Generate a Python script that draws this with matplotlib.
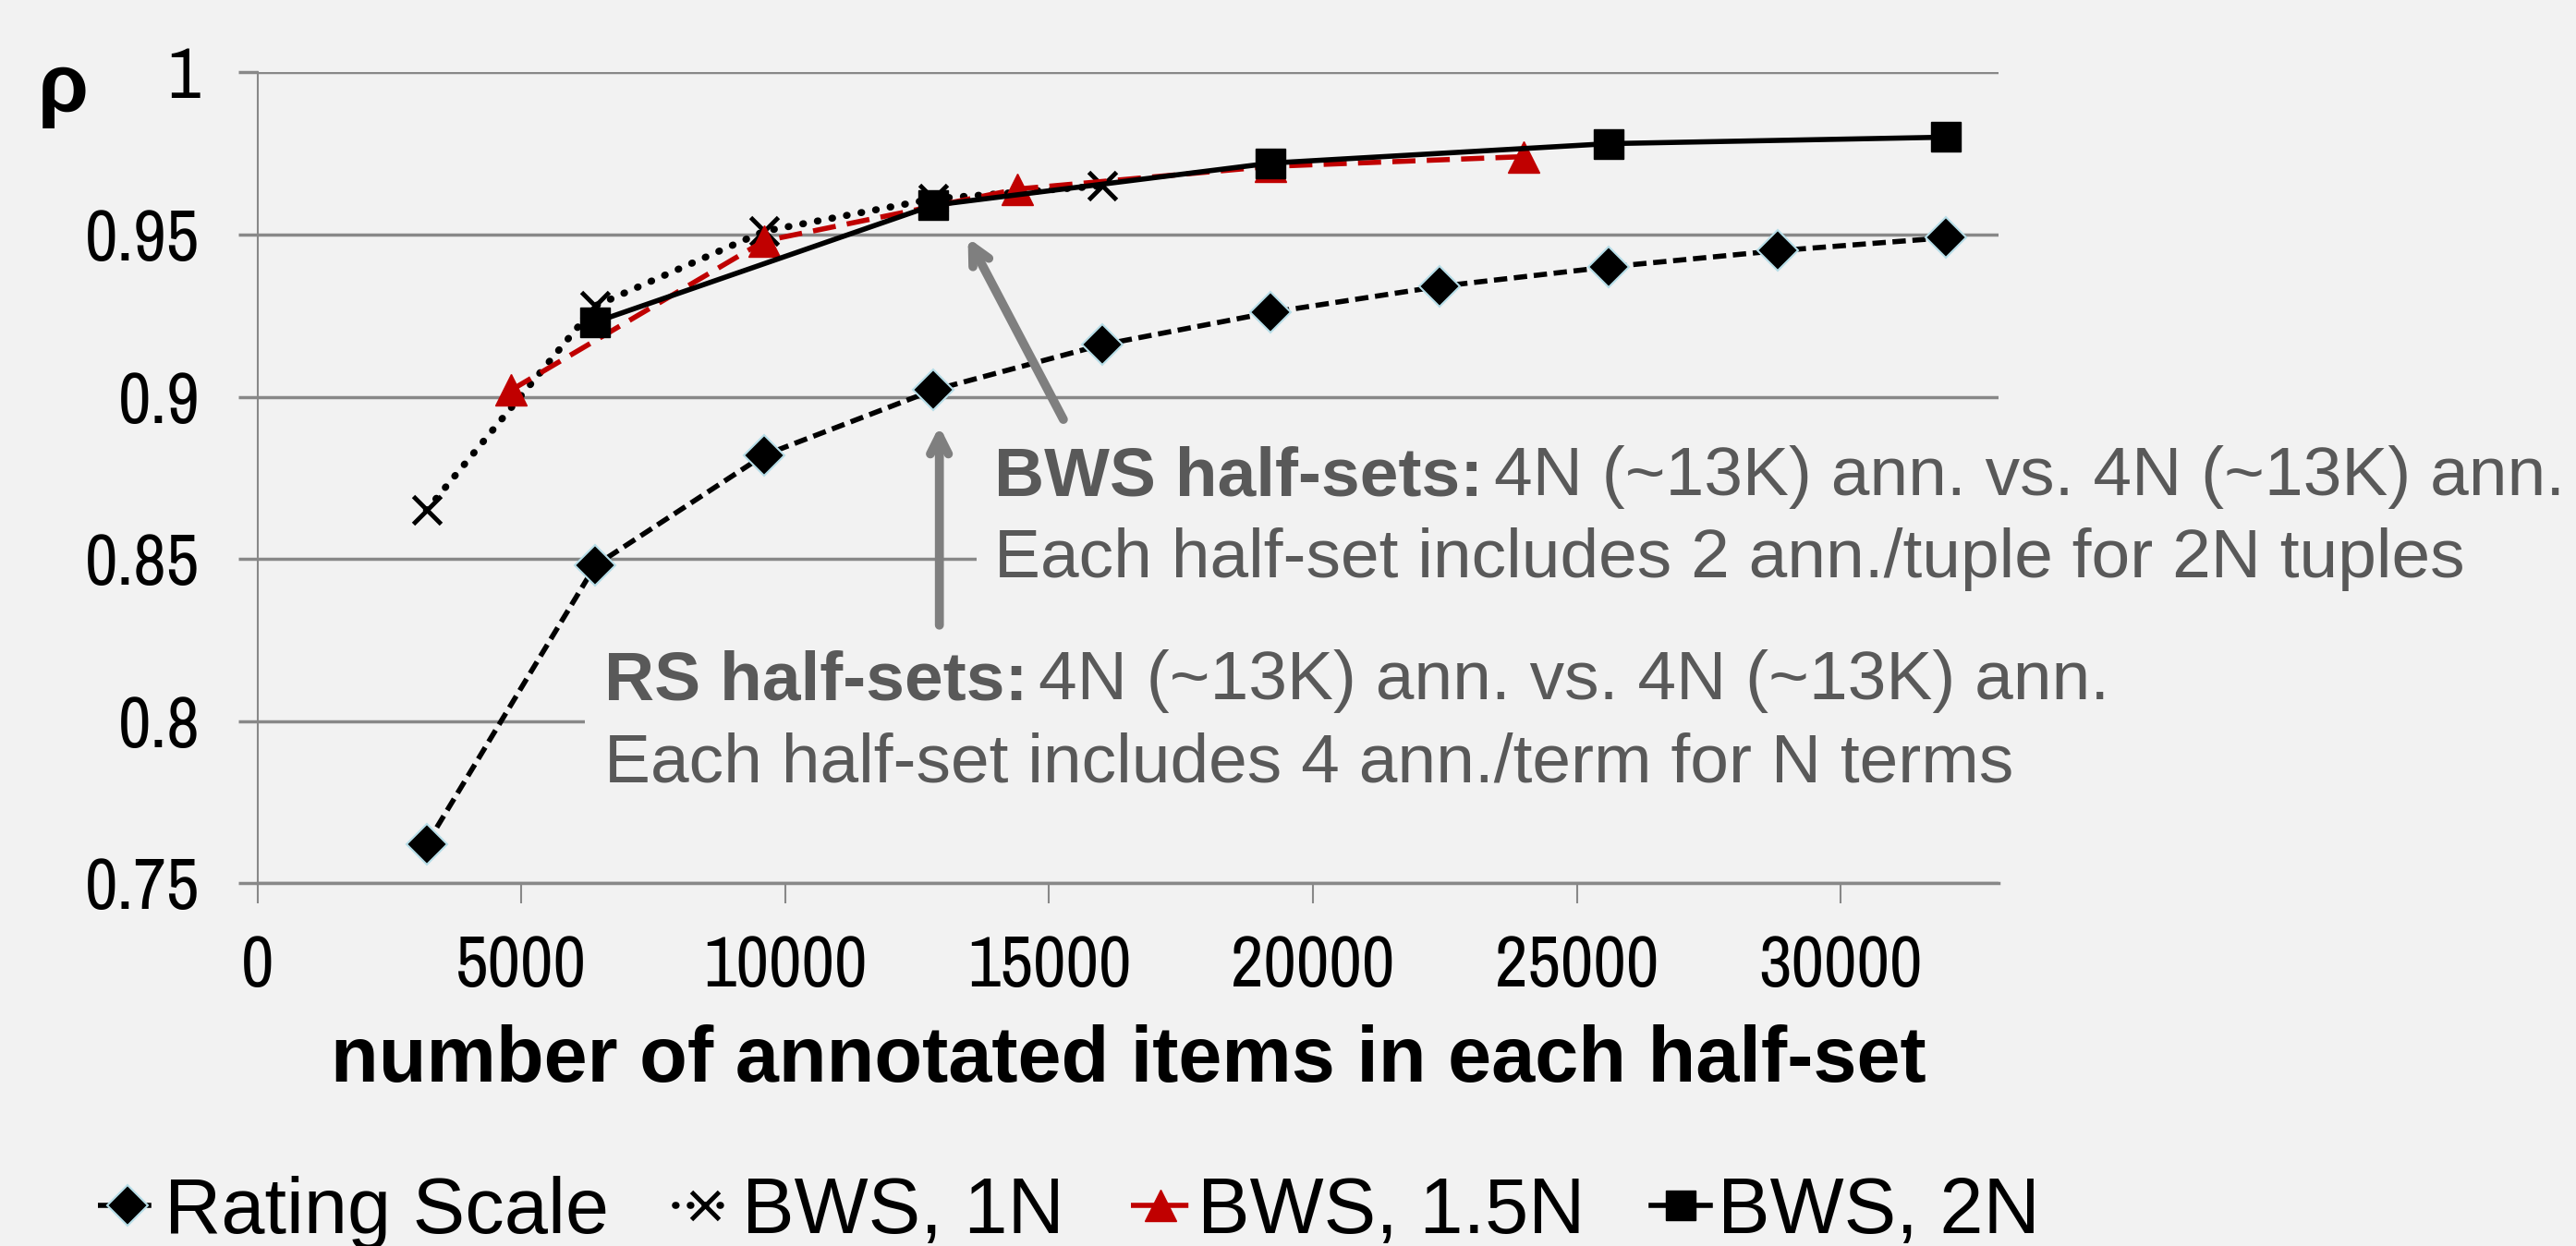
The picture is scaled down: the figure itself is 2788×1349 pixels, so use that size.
import matplotlib
matplotlib.use("Agg")
from matplotlib import pyplot as plt
from matplotlib import font_manager
from matplotlib.patches import Rectangle

# data
rs_x = [3200, 6400, 9600, 12800, 16000, 19200, 22400, 25600, 28800, 32000]
rs_y = [0.762, 0.848, 0.882, 0.902, 0.916, 0.926, 0.934, 0.940, 0.945, 0.949]
bws1_x = [3200, 6400, 9600, 12800, 16000]
bws1_y = [0.865, 0.928, 0.951, 0.961, 0.965]
bws15_x = [4800, 9600, 14400, 19200, 24000]
bws15_y = [0.902, 0.948, 0.964, 0.971, 0.974]
bws2_x = [6400, 12800, 19200, 25600, 32000]
bws2_y = [0.923, 0.959, 0.972, 0.978, 0.980]
x_ticks = [0, 5000, 10000, 15000, 20000, 25000, 30000]
y_ticks = [0.75, 0.8, 0.85, 0.9, 0.95, 1]
y_ticklabels = ["0.75", "0.8", "0.85", "0.9", "0.95", "1"]

# tick labels are in a narrow face; take the first one that is there
names = {f.name for f in font_manager.fontManager.ttflist}
narrow_pref = ["Liberation Sans Narrow", "Arial Narrow", "Nimbus Sans Narrow",
               "Archivo Narrow", "Roboto Condensed", "PT Sans Narrow",
               "IBM Plex Sans Condensed", "Fira Sans Condensed"]
NARROW = next((n for n in narrow_pref if n in names), "Liberation Sans")
WIDE = "Liberation Sans"
BG = "#f2f2f2"
GRID = "#888888"
TXT = "#595959"
ARROW = "#7f7f7f"

fig = plt.figure(figsize=(27.88, 13.49), dpi=100, facecolor=BG)
ax = fig.add_axes([0.100, 0.291, 0.676, 0.651], facecolor=BG)

ax.plot(rs_x, rs_y, color="black", lw=4, dashes=(2.6, 1.3), marker="D", ms=22,
        mfc="black", mec="#b7dee8", mew=1.5, label="Rating Scale", zorder=3)
ax.plot(bws1_x, bws1_y, color="black", lw=5.5, dashes=(0.1, 2.0), dash_capstyle="round",
        marker="x", ms=21, mew=3.5, label="BWS, 1N", zorder=3)
ax.plot(bws15_x, bws15_y, color="#c00000", lw=4, dashes=(4.5, 2.2), marker="^", ms=24,
        mfc="#c00000", mec="#c00000", label="BWS, 1.5N", zorder=3)
ax.plot(bws2_x, bws2_y, color="black", lw=4, marker="s", ms=23, mfc="black", mec="black",
        label="BWS, 2N", zorder=3)

ax.set_xlim(0, 33000)
ax.set_ylim(0.75, 1.0)
ax.set_xticks(x_ticks)
ax.set_yticks(y_ticks)
ax.set_yticklabels(y_ticklabels)
ax.grid(axis="y", color=GRID, lw=2.5)
ax.set_axisbelow(True)
for s in ["top", "right"]:
    ax.spines[s].set_visible(False)
for s in ["left", "bottom"]:
    ax.spines[s].set_color(GRID)
ax.spines["left"].set_linewidth(1.5)
ax.spines["bottom"].set_linewidth(2.5)
ax.tick_params(axis="x", length=16, width=1.5, color=GRID, pad=24)
ax.tick_params(axis="y", length=15, width=2.5, color=GRID, pad=30)

fig.canvas.draw()
renderer = fig.canvas.get_renderer()

# size the narrow tick labels from the width of "0.95" in the reference (~117 px),
# a little bigger so the digits are about as tall
probe = fig.text(0, 0, "0.95", fontfamily=NARROW, fontsize=54)
w = probe.get_window_extent(renderer).width
probe.remove()
tick_size = min(56, 54 * 117 / w * 1.12)
for lab in ax.get_xticklabels() + ax.get_yticklabels():
    lab.set_fontfamily(NARROW)
    lab.set_fontsize(tick_size)

ax.set_xlabel("number of annotated items in each half-set", fontfamily=WIDE,
              fontweight="bold", fontsize=61, labelpad=20)
fig.text(0.0245, 0.927, "\u03c1", fontfamily=WIDE, fontweight="bold", fontsize=64,
         ha="center", va="center")

# boxes that hide the grid behind the notes
ax.add_patch(Rectangle((0.379, 0.518), 0.42, 0.148, transform=fig.transFigure,
                       facecolor=BG, edgecolor="none", clip_on=False, zorder=2))
ax.add_patch(Rectangle((0.227, 0.345), 0.56, 0.145, transform=fig.transFigure,
                       facecolor=BG, edgecolor="none", clip_on=False, zorder=2))

arrow_kw = dict(arrowstyle="->,head_length=1.4,head_width=0.7", color=ARROW, lw=7,
                shrinkA=0, shrinkB=0)
ax.annotate("", xy=(13460, 0.949), xytext=(15270, 0.893), arrowprops=arrow_kw, zorder=4)
ax.annotate("", xy=(12920, 0.891), xytext=(12920, 0.8296), arrowprops=arrow_kw, zorder=4)


def note(x, y, head, rest, line2):
    t = fig.text(x, y, head, fontfamily=WIDE, fontweight="bold", fontsize=54,
                 color=TXT, ha="left", va="center")
    bb = t.get_window_extent(renderer)
    x2 = bb.x1 / fig.bbox.width + 0.004
    fig.text(x2, y, rest, fontfamily=WIDE, fontsize=54, color=TXT, ha="left", va="center")
    fig.text(x, y - 0.066, line2, fontfamily=WIDE, fontsize=54, color=TXT,
             ha="left", va="center")


note(0.386, 0.617, "BWS half-sets:", "4N (~13K) ann. vs. 4N (~13K) ann.",
     "Each half-set includes 2 ann./tuple for 2N tuples")
note(0.2346, 0.453, "RS half-sets:", "4N (~13K) ann. vs. 4N (~13K) ann.",
     "Each half-set includes 4 ann./term for N terms")

leg = fig.legend(loc="center left", bbox_to_anchor=(0.038, 0.027), ncol=4, frameon=False,
                 handlelength=0.75, handletextpad=0.1, columnspacing=0.85, borderpad=0,
                 borderaxespad=0, markerscale=1.0,
                 prop={"family": WIDE, "size": 61})

fig.savefig("out.png", dpi=100, facecolor=BG)
